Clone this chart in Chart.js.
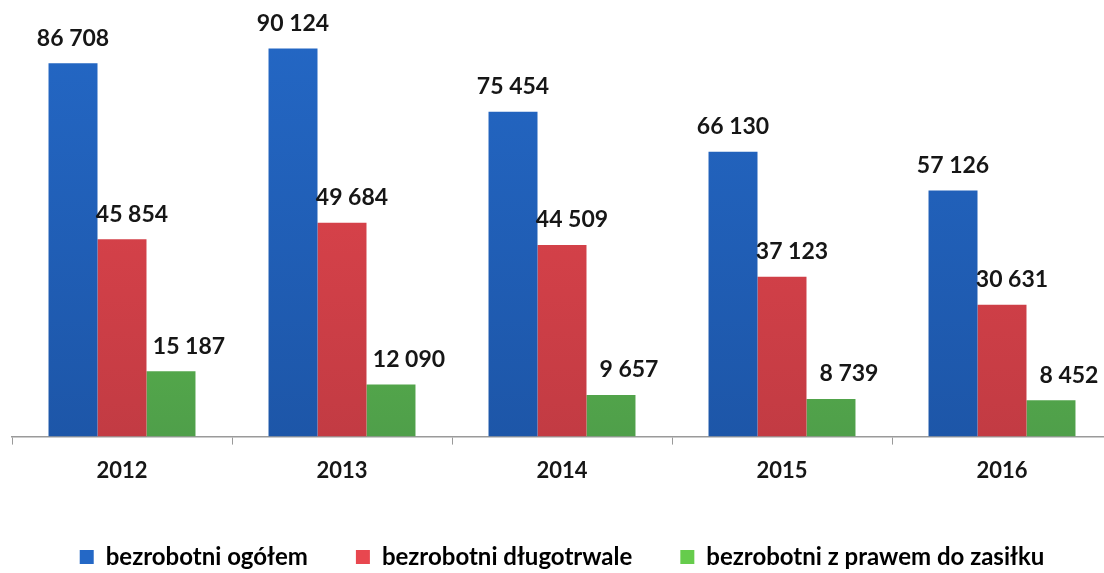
<!DOCTYPE html>
<html>
<head>
<meta charset="utf-8">
<script src="https://cdn.jsdelivr.net/npm/chart.js@4"></script>
<style>
  html, body { margin: 0; padding: 0; background: #fff; overflow: hidden; }
  /* slightly larger than the window: the axis runs past the right edge in the scan */
  #wrap { width: 1112px; height: 579px; }
</style>
</head>
<body>
<div id="wrap"><canvas id="unemployment"></canvas></div>
<script>
// years and the three series
let years = ['2012', '2013', '2014', '2015', '2016'];
let seriesNames = ['bezrobotni ogółem', 'bezrobotni długotrwale', 'bezrobotni z prawem do zasiłku'];
let totalUnemployed = [86708, 90124, 75454, 66130, 57126];
let longTerm = [45854, 49684, 44509, 37123, 30631];
let withBenefit = [15187, 12090, 9657, 8739, 8452];

const FONT = 'Lato, "Open Sans", sans-serif';
const INK = '#161616';

// light top, darker bottom, like the Excel gradient fill
function barFill(top, bottom) {
  return function(ctx) {
    const area = ctx.chart.chartArea;
    if (!area) return top;
    const g = ctx.chart.ctx.createLinearGradient(0, area.top, 0, area.bottom);
    g.addColorStop(0, top);
    g.addColorStop(1, bottom);
    return g;
  };
}

function fmt(v) {
  return String(v).replace(/\B(?=(\d{3})+(?!\d))/g, ' ');
}

// value labels above each bar (no datalabels plugin available offline)
const valueLabels = {
  id: 'valueLabels',
  afterDatasetsDraw(chart) {
    const c = chart.ctx;
    c.save();
    c.font = 'bold 23px ' + FONT;
    c.fillStyle = INK;
    c.textAlign = 'center';
    c.textBaseline = 'middle';
    chart.data.datasets.forEach((ds, i) => {
      const meta = chart.getDatasetMeta(i);
      meta.data.forEach((bar, j) => {
        c.fillText(fmt(ds.data[j]), bar.x + (ds.labelShift || 0), bar.y - 25);
      });
    });
    c.restore();
  }
};

new Chart('unemployment', {
  type: 'bar',
  data: {
    labels: years,
    datasets: [{
      label: seriesNames[0],
      data: totalUnemployed,
      backgroundColor: barFill('#2468c6', '#1d56a8'),
      labelShift: 0
    }, {
      label: seriesNames[1],
      data: longTerm,
      backgroundColor: barFill('#e8474f', '#c23b43'),
      labelShift: 10
    }, {
      label: seriesNames[2],
      data: withBenefit,
      backgroundColor: barFill('#66cc4c', '#4f9f4a'),
      labelShift: 18
    }]
  },
  options: {
    responsive: true,
    maintainAspectRatio: false,
    animation: false,
    layout: { padding: { left: 12, right: 0, top: 6, bottom: 0 } },
    datasets: {
      bar: { categoryPercentage: 0.668, barPercentage: 1.0 }
    },
    scales: {
      x: {
        grid: { drawOnChartArea: false, drawTicks: true, tickLength: 8, color: '#9a9a9a', offset: true },
        border: { display: true, color: '#9a9a9a', width: 1.5 },
        ticks: { color: INK, font: { family: FONT, size: 22, weight: 'bold' }, padding: 13 }
      },
      y: {
        display: false,
        min: 0,
        max: 100000
      }
    },
    plugins: {
      legend: {
        position: 'bottom',
        labels: {
          color: INK,
          font: { family: FONT, size: 24, weight: 'bold' },
          boxWidth: 14,
          boxHeight: 14,
          padding: 48,
          generateLabels(chart) {
            const cols = ['#2468c6', '#e8474f', '#66cc4c'];
            return chart.data.datasets.map((ds, i) => ({
              text: ds.label,
              fillStyle: cols[i],
              strokeStyle: cols[i],
              lineWidth: 0,
              datasetIndex: i,
              hidden: false
            }));
          }
        }
      },
      tooltip: { enabled: false }
    }
  },
  plugins: [valueLabels]
});
</script>
</body>
</html>
